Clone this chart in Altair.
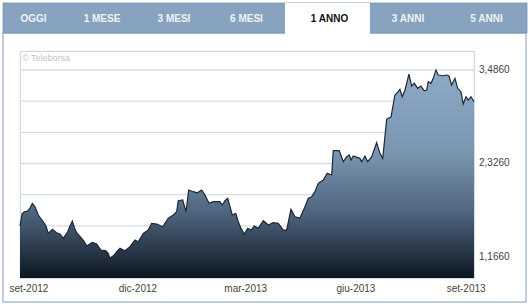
import altair as alt
import pandas as pd

# ---------------- data ----------------
start_date = "2012-08-25"
day_offsets = [0, 1.7, 3.3, 6.7, 8.3, 10.3, 12.5, 15.3, 19.4, 21.7, 23.6, 27.0, 30.6, 33.4,
               36.1, 39.8, 41.7, 43.7, 45.5, 47.3, 51.5, 53.4, 55.7, 60.3, 64.0, 67.6, 71.5,
               73.5, 75.1, 78.7, 80.7, 83.5, 87.6, 91.8, 96.0, 98.7, 102.9, 107.1, 109.9,
               114.1, 119.1, 123.8, 128.0, 130.8, 132.1, 135.8, 138.6, 140.8, 144.7, 148.0,
               151.7, 154.4, 157.8, 161.4, 166.9, 168.9, 171.1, 173.4, 175.3, 177.2, 180.1,
               182.2, 184.5, 187.2, 190.1, 192.8, 195.6, 198.9, 203.1, 207.3, 211.4, 215.6,
               219.8, 222.6, 226.2, 229.5, 233.7, 237.9, 240.7, 243.5, 246.2, 249.0, 253.2,
               256.5, 260.2, 261.5, 266.5, 269.9, 272.7, 274.9, 276.3, 278.2, 283.8, 285.2,
               288.0, 290.2, 293.6, 297.7, 300.5, 302.8, 306.1, 307.4, 309.7, 313.0, 315.8,
               317.2, 319.1, 321.4, 324.7, 327.0, 329.1, 332.0, 334.7, 337.5, 339.5, 340.8,
               343.1, 345.0, 347.2, 349.2, 353.3, 356.2, 358.1, 360.3, 363.1, 365.4, 368.1,
               370.0, 372.3, 374.2, 376.5, 379.0]
prices = [1.550, 1.699, 1.724, 1.740, 1.773, 1.832, 1.790, 1.687, 1.603, 1.550, 1.459, 1.509,
          1.467, 1.451, 1.397, 1.479, 1.550, 1.612, 1.525, 1.467, 1.397, 1.364, 1.302, 1.348,
          1.327, 1.252, 1.244, 1.215, 1.149, 1.190, 1.231, 1.273, 1.244, 1.293, 1.376, 1.355,
          1.459, 1.500, 1.584, 1.575, 1.541, 1.646, 1.687, 1.728, 1.864, 1.873, 1.728, 1.997,
          1.976, 1.963, 1.997, 1.935, 1.832, 1.852, 1.852, 1.811, 1.864, 1.894, 1.790, 1.687,
          1.708, 1.603, 1.521, 1.451, 1.521, 1.500, 1.550, 1.521, 1.616, 1.562, 1.591, 1.584,
          1.500, 1.500, 1.757, 1.665, 1.649, 1.790, 1.894, 1.914, 1.976, 2.080, 2.121, 2.204,
          2.183, 2.485, 2.485, 2.348, 2.410, 2.431, 2.369, 2.419, 2.390, 2.348, 2.419, 2.348,
          2.410, 2.584, 2.452, 2.390, 2.874, 2.887, 2.903, 3.176, 3.217, 3.246, 3.155, 3.238,
          3.436, 3.287, 3.321, 3.259, 3.287, 3.229, 3.238, 3.341, 3.321, 3.383, 3.486, 3.424,
          3.415, 3.424, 3.412, 3.300, 3.383, 3.259, 3.217, 3.064, 3.155, 3.114, 3.155, 3.093]

y_grid_values = [1.166, 1.5527, 1.9393, 2.326, 2.7127, 3.0993, 3.486]
y_label_values = [1.166, 2.326, 3.486]
x_tick_dates = [(2012, 9), (2012, 12), (2013, 3), (2013, 6), (2013, 9)]
month_names = ["gen", "feb", "mar", "apr", "mag", "giu", "lug", "ago", "set", "ott", "nov", "dic"]
tab_labels = ["OGGI", "1 MESE", "3 MESI", "6 MESI", "1 ANNO", "3 ANNI", "5 ANNI"]
active_tab = "1 ANNO"
watermark = "© Teleborsa"

# ---------------- layout ----------------
W, H = 454, 227
PAD_L, PAD_T, PAD_R, PAD_B = 20, 51, 56, 30
FONT = "Liberation Sans"

df = pd.DataFrame({
    "date": pd.Timestamp(start_date) + pd.to_timedelta(day_offsets, unit="D"),
    "price": prices,
})
grid_df = pd.DataFrame({"g": y_grid_values})
ylab_df = pd.DataFrame({"v": y_label_values,
                        "t": [("%.4f" % v).replace(".", ",") for v in y_label_values]})

x_dom = [alt.DateTime(year=2012, month=8, date=25), alt.DateTime(year=2013, month=9, date=8)]
x_vals = [alt.DateTime(year=y, month=m, date=1) for (y, m) in x_tick_dates]
month_arr = "[" + ",".join("'%s'" % m for m in month_names) + "]"
x_label_expr = month_arr + "[month(datum.value)] + '-' + year(datum.value)"

x_scale = alt.Scale(domain=x_dom)
y_scale = alt.Scale(domain=[0.905, 3.722], nice=False, zero=False)

x_axis = alt.Axis(values=x_vals, labelExpr=x_label_expr, title=None, grid=False,
                  ticks=False, domain=False, labelFont=FONT, labelFontSize=10,
                  labelColor="#444444", labelPadding=5, labelFlush=False,
                  labelOverlap=False)
x_enc = alt.X("date:T", scale=x_scale, axis=x_axis)

grid = alt.Chart(grid_df).mark_rule(color="#d3dce7", strokeWidth=1.3).encode(
    y=alt.Y("g:Q", scale=y_scale, axis=None))

ylabels = alt.Chart(ylab_df).mark_text(font=FONT, fontSize=10, color="#444444",
                                       align="left", baseline="middle").encode(
    y=alt.Y("v:Q", scale=y_scale, axis=None), x=alt.value(W + 5), text="t:N")

grad = alt.Gradient(gradient="linear", x1=0, x2=0, y1=0, y2=1,
                    stops=[alt.GradientStop(offset=0, color="#8eaac6"),
                           alt.GradientStop(offset=0.4, color="#7a95b0"),
                           alt.GradientStop(offset=0.68, color="#506680"),
                           alt.GradientStop(offset=1, color="#0d1722")])

area = alt.Chart(df).mark_area(color=grad, interpolate="linear").encode(
    x=x_enc, y=alt.Y("price:Q", scale=y_scale, axis=None), y2=alt.datum(0.905))
line = alt.Chart(df).mark_line(color="#1d2937", strokeWidth=1.2).encode(
    x=x_enc, y=alt.Y("price:Q", scale=y_scale, axis=None))

one = pd.DataFrame({"k": [0]})


def box(x0, x1, y0, y1, **kw):
    # absolute canvas pixels -> plot-relative pixels
    return alt.Chart(one).mark_rect(**kw).encode(
        x=alt.value(x0 - PAD_L), x2=alt.value(x1 - PAD_L),
        y=alt.value(y0 - PAD_T), y2=alt.value(y1 - PAD_T))


def label(txt, x, y, **kw):
    return alt.Chart(one).mark_text(font=FONT, **kw).encode(
        x=alt.value(x - PAD_L), y=alt.value(y - PAD_T), text=alt.value(txt))


frame = box(3, 526, 33, 302, fill=None, stroke="#a9bccf", strokeWidth=1.5)
tabbar = box(3, 527, 3, 33, fill="#87a3bf", stroke="#7893ae", strokeWidth=0.8)

tab_edges = [3, 68, 140, 212, 285, 370, 442, 527]
deco = [frame, tabbar]
for i, t in enumerate(tab_labels):
    x0, x1 = tab_edges[i], tab_edges[i + 1]
    if t == active_tab:
        deco.append(box(x0, x1, 3, 34.5, fill="#ffffff", stroke=None))
        deco.append(label(t, (x0 + x1) / 2 + 2, 18.5, fontSize=10, fontWeight="bold",
                          color="#111111", align="center", baseline="middle"))
    else:
        deco.append(label(t, (x0 + x1) / 2 + (-2 if i < 4 else 2), 18.5, fontSize=10,
                          fontWeight="bold", color="#eef3f8", align="center",
                          baseline="middle"))

wm = label(watermark, 22, 58, fontSize=9, color="#c4c4c4", align="left", baseline="middle")

chart = alt.layer(*deco, grid, area, line, ylabels, wm).properties(
    width=W, height=H,
    autosize=alt.AutoSizeParams(type="none"),
    padding={"left": PAD_L, "top": PAD_T, "right": PAD_R, "bottom": PAD_B},
    background="#ffffff",
).configure_view(stroke="#cfd9e4", strokeWidth=1.2)

chart.save("out.html", embed_options={"renderer": "svg", "actions": False})
